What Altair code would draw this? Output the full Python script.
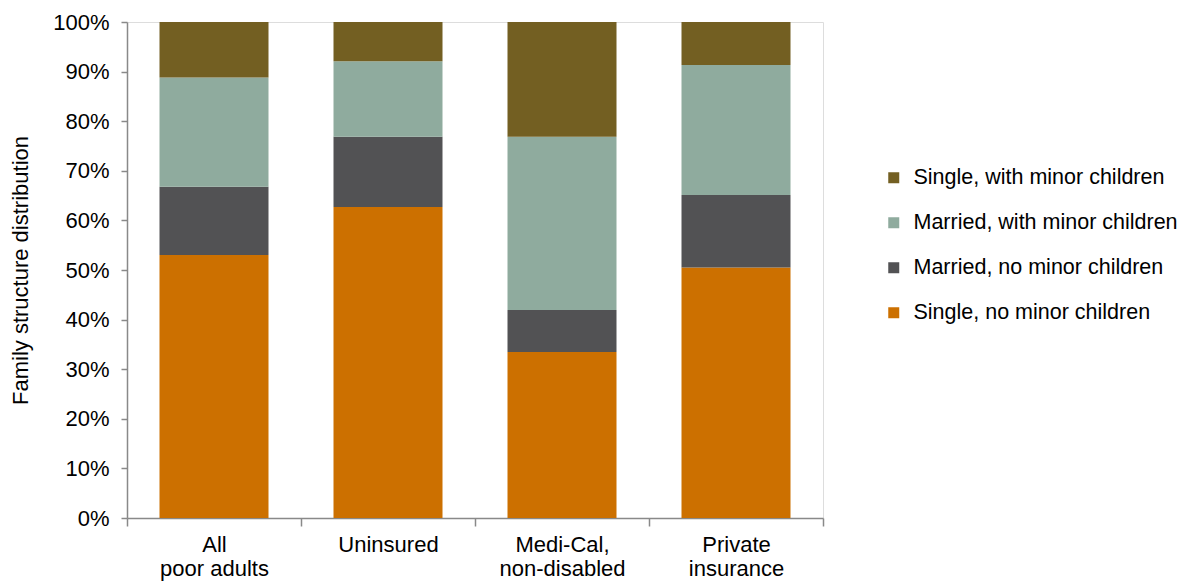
import altair as alt
import pandas as pd

categories = ["All|poor adults", "Uninsured", "Medi-Cal,|non-disabled", "Private|insurance"]
groups = ["Single, no minor children", "Married, no minor children",
          "Married, with minor children", "Single, with minor children"]
single_no = [53.0, 62.7, 33.45, 50.5]
married_no = [13.8, 14.15, 8.5, 14.6]
married_with = [22.0, 15.25, 34.9, 26.25]
single_with = [11.2, 7.9, 23.15, 8.65]
colors = ["#CC7000", "#525254", "#8FAB9E", "#735F22"]
y_ticks = [0, 10, 20, 30, 40, 50, 60, 70, 80, 90, 100]

rows = []
for gi, (g, vals) in enumerate(zip(groups, [single_no, married_no, married_with, single_with])):
    for c, v in zip(categories, vals):
        rows.append({"category": c, "group": g, "value": v, "order": gi})
df = pd.DataFrame(rows)

FONT = "Liberation Sans"
AX = "#898989"

chart = alt.Chart(df).mark_bar(size=109).encode(
    x=alt.X("category:N", sort=categories,
            scale=alt.Scale(paddingInner=0, paddingOuter=0),
            axis=alt.Axis(title=None, labelAngle=0, tickBand="extent", tickSize=8,
                          labelPadding=8, labelFontSize=22, labelLineHeight=24,
                          labelExpr="split(datum.label, '|')", labelColor="#000000",
                          domainColor=AX, tickColor=AX, domainWidth=1.5, tickWidth=1.5,
                          labelFont=FONT)),
    y=alt.Y("value:Q", stack="zero",
            scale=alt.Scale(domain=[0, 100], nice=False),
            axis=alt.Axis(title="Family structure distribution", values=y_ticks,
                          labelExpr="datum.value + '%'", grid=False, tickSize=6,
                          labelPadding=12, labelFontSize=22, titleFontSize=22,
                          titleFontWeight="normal", titlePadding=20, labelColor="#000000",
                          titleColor="#000000", domainColor=AX, tickColor=AX,
                          domainWidth=1.5, tickWidth=1.5, labelFont=FONT, titleFont=FONT)),
    color=alt.Color("group:N",
                    scale=alt.Scale(domain=groups[::-1], range=colors[::-1]),
                    legend=alt.Legend(title=None, orient="none", legendX=756, legendY=145,
                                      symbolType="square", symbolSize=121, symbolStrokeWidth=0,
                                      labelFontSize=21.5, labelFont=FONT, labelColor="#000000",
                                      labelOffset=9, rowPadding=22, padding=0,
                                      labelLimit=400)),
    order=alt.Order("order:Q", sort="ascending"),
).properties(
    width=696, height=496,
    autosize=alt.AutoSizeParams(type="none"),
    padding={"left": 127, "top": 22, "right": 355, "bottom": 65},
).configure_view(stroke=None).configure(background="white")

chart.save("out.html", embed_options={"renderer": "svg", "actions": False})
